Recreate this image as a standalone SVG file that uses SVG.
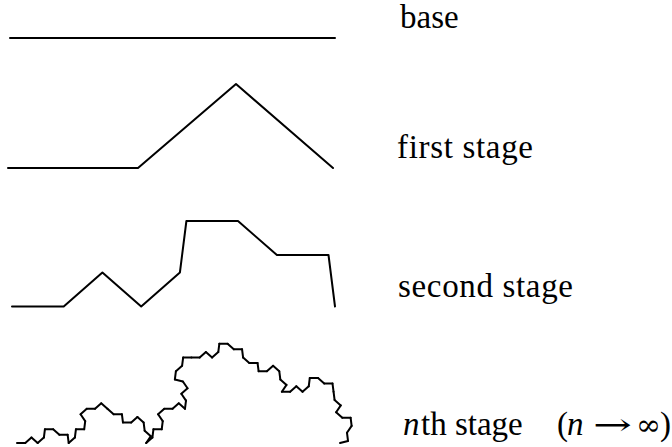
<svg xmlns="http://www.w3.org/2000/svg" xmlns:xlink="http://www.w3.org/1999/xlink" width="672" height="447" viewBox="0 0 672 447">
  <style>
    .curve { fill: none; stroke: #000; stroke-width: 2; stroke-linejoin: round; stroke-linecap: round; }
    text { font-family: "Liberation Serif", "Times New Roman", "DejaVu Serif", serif; font-size: 33px; fill: #000; }
    .math { font-style: italic; }
    .sym { font-family: "DejaVu Serif", "Liberation Serif", serif; font-size: 30px; }
  </style>
  <defs>
    <!-- unit segment (0,0)-(1,0); every stage is three copies of the previous one -->
    <path id="s0" d="M0 0H1" fill="none" stroke="#000" stroke-width="2" stroke-linecap="round" vector-effect="non-scaling-stroke"/>
    <g id="s1">
      <use href="#s0" transform="matrix(0.4 0 0 0.4 0 0)"/>
      <use href="#s0" transform="matrix(0.3 -0.2646 0.2646 0.3 0.4 0)"/>
      <use href="#s0" transform="matrix(0.3 0.2646 -0.2646 0.3 0.7 -0.2646)"/>
    </g>
    <g id="s2">
      <use href="#s1" transform="matrix(0.4 0 0 0.4 0 0)"/>
      <use href="#s1" transform="matrix(0.3 -0.2646 0.2646 0.3 0.4 0)"/>
      <use href="#s1" transform="matrix(0.3 0.2646 -0.2646 0.3 0.7 -0.2646)"/>
    </g>
    <g id="s3">
      <use href="#s2" transform="matrix(0.4 0 0 0.4 0 0)"/>
      <use href="#s2" transform="matrix(0.3 -0.2646 0.2646 0.3 0.4 0)"/>
      <use href="#s2" transform="matrix(0.3 0.2646 -0.2646 0.3 0.7 -0.2646)"/>
    </g>
    <g id="s4">
      <use href="#s3" transform="matrix(0.4 0 0 0.4 0 0)"/>
      <use href="#s3" transform="matrix(0.3 -0.2646 0.2646 0.3 0.4 0)"/>
      <use href="#s3" transform="matrix(0.3 0.2646 -0.2646 0.3 0.7 -0.2646)"/>
    </g>
  </defs>

  <!-- base -->
  <g id="base">
    <line class="curve" x1="10" y1="38" x2="335" y2="38"/>
    <text x="400" y="28">base</text>
  </g>

  <!-- first stage -->
  <g id="first-stage">
    <polyline class="curve" points="8,168 138,168 236,84 333,168"/>
    <text x="397" y="158" textLength="136" lengthAdjust="spacing">first stage</text>
  </g>

  <!-- second stage -->
  <g id="second-stage">
    <polyline class="curve" points="12,306.5 63.7,306.5 102.4,272.5 141.2,306.5 179.9,272.5 186.4,221 238,221 276.9,255 328.5,255 335,306.5"/>
    <text x="398" y="297" textLength="175" lengthAdjust="spacing">second stage</text>
  </g>

  <!-- nth stage, drawn as the fourth iteration -->
  <g id="nth-stage">
    <use href="#s4" transform="translate(17 443) scale(323)"/>
    <text y="435"><tspan class="math" x="403">n</tspan><tspan x="421">th stage</tspan><tspan x="557">(</tspan><tspan class="math" x="567">n</tspan><tspan class="sym" x="636">∞</tspan><tspan x="660">)</tspan></text>
    <text class="sym" x="593" y="435" textLength="39" lengthAdjust="spacingAndGlyphs">→</text>
  </g>
</svg>
